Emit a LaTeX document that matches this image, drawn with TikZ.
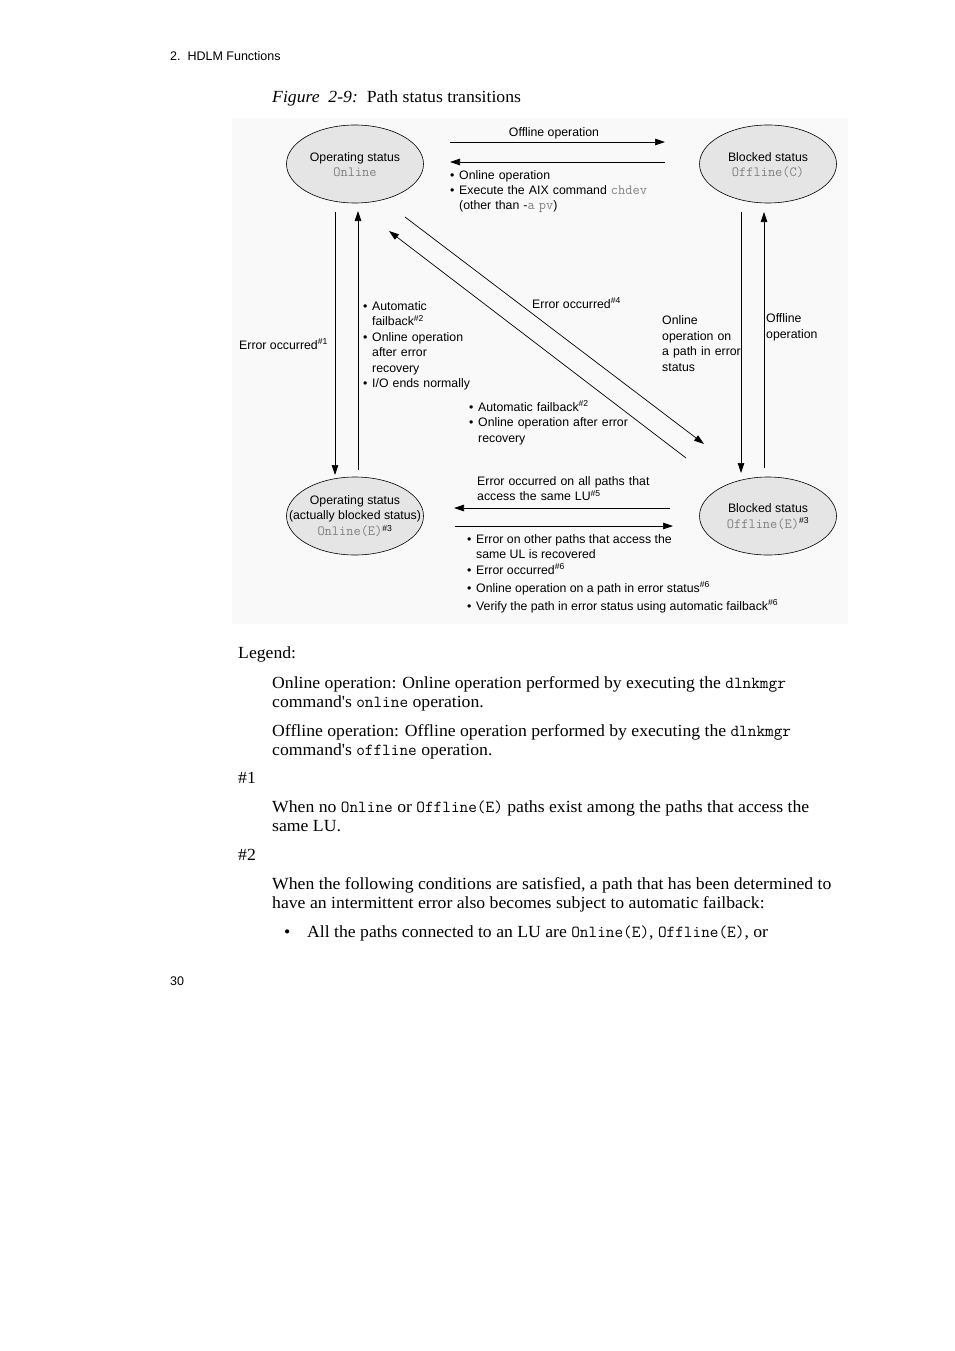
\documentclass[tikz,border=0pt]{standalone}
\usepackage{fontspec}
\setmainfont{Liberation Serif}[FakeStretch=1.04]
\newfontfamily\sansf{Liberation Sans}
\usetikzlibrary{arrows.meta,shapes.geometric}
\definecolor{monogray}{gray}{0.5}
\definecolor{ellfill}{gray}{0.9}
\definecolor{diagbg}{gray}{0.975}
\newcommand\dm[1]{{\ttfamily\fontsize{14}{15.5}\selectfont\textcolor{monogray}{#1}}}
\newcommand\bm[1]{{\ttfamily\fontsize{16.8}{19}\selectfont #1}}
\newcommand\hs[1]{\textsuperscript{\#{}#1}}
\newcommand\bul{\makebox[9pt][l]{\textbullet}}
\newcommand\cnt{\hspace*{9pt}}
\newcommand\apos{\textquotesingle}
\begin{document}
\begin{tikzpicture}[x=1pt,y=-1pt,
  dtext/.style={font=\sansf\fontsize{12.3}{15.5}\selectfont, inner sep=0pt, anchor=base west},
  dblock/.style={dtext, text width=260pt, align=left},
  btext/.style={font=\fontsize{17}{19}\selectfont, inner sep=0pt, anchor=base west},
  htext/.style={font=\sansf\fontsize{12.5}{15}\selectfont, inner sep=0pt, anchor=base west},
  state/.style={ellipse, draw, fill=ellfill, minimum width=137pt, minimum height=78pt,
    inner sep=0pt, line width=0.6pt},
  stext/.style={align=center, inner sep=0pt, font=\sansf\fontsize{12.3}{15.5}\selectfont},
  arr/.style={-{Triangle[length=10pt,width=6.5pt]}, line width=0.7pt}]
\useasboundingbox (0,0) rectangle (954,1351);
\fill[white] (0,0) rectangle (954,1351);
% header and caption
\node[htext] (hdr) at (170,61) {2.\ \ HDLM Functions};
\node[btext] (cap) at (272,103) {\textit{Figure\ \ 2-9:}\ \ Path status transitions};
% diagram background
\fill[diagbg] (232,118) rectangle (848,624);
% states
\node[state] (on) at (355,164) {};
\node[state] (offc) at (768,164) {};
\node[state] (one) at (355,516) {};
\node[state] (offe) at (768,516) {};
\node[stext] (ont) at (355,164.5) {Operating status\\\dm{Online}};
\node[stext] (offct) at (768,165) {Blocked status\\\dm{Offline(C)}};
\node[stext] (onet) at (355,516) {Operating status\\(actually blocked status)\\\dm{Online(E)}\hs{3}};
\node[stext] (offet) at (768,516.5) {Blocked status\\\dm{Offline(E)}\hs{3}};
% arrow end points
\coordinate (t1s) at (450,142); \coordinate (t1e) at (665,142);
\coordinate (t2s) at (665,162); \coordinate (t2e) at (450,162);
\coordinate (l1s) at (335,212); \coordinate (l1e) at (335,475);
\coordinate (l2s) at (358,470); \coordinate (l2e) at (358,211);
\coordinate (r1s) at (741,212); \coordinate (r1e) at (741,473);
\coordinate (r2s) at (764,468); \coordinate (r2e) at (764,212);
\coordinate (d1s) at (405,217); \coordinate (d1e) at (704,444);
\coordinate (d2s) at (686,458); \coordinate (d2e) at (389,231);
\coordinate (b1s) at (670,508); \coordinate (b1e) at (454,508);
\coordinate (b2s) at (455,526); \coordinate (b2e) at (673,526);
\draw[arr] (t1s) -- (t1e);
\draw[arr] (t2s) -- (t2e);
\draw[arr] (l1s) -- (l1e);
\draw[arr] (l2s) -- (l2e);
\draw[arr] (r1s) -- (r1e);
\draw[arr] (r2s) -- (r2e);
\draw[arr] (d1s) -- (d1e);
\draw[arr] (d2s) -- (d2e);
\draw[arr] (b1s) -- (b1e);
\draw[arr] (b2s) -- (b2e);
% labels
\node[dtext, anchor=base] (lofft) at (554,137) {Offline operation};
\node[dblock] (lont) at (450,179) {\bul Online operation\\\bul Execute the AIX command \dm{chdev}\\\cnt(other than -\dm{a pv})};
\node[dtext] (lerr1) at (239,349) {Error occurred\hs{1}};
\node[dblock] (lleft) at (363,310) {\bul Automatic\\\cnt failback\hs{2}\\\bul Online operation\\\cnt after error\\\cnt recovery\\\bul I/O ends normally};
\node[dtext] (lerr4) at (532,308) {Error occurred\hs{4}};
\node[dblock] (lonerr) at (662,324.5) {Online\\operation on\\a path in error\\status};
\node[dblock] (loffop) at (766,322.5) {Offline\\operation};
\node[dblock] (lmid) at (469,411) {\bul Automatic failback\hs{2}\\\bul Online operation after error\\\cnt recovery};
\node[dblock] (lall) at (477,485) {Error occurred on all paths that\\access the same LU\hs{5}};
\node[dtext] (lb1) at (467,543) {\bul Error on other paths that access the};
\node[dtext] (lb2) at (476,558) {same UL is recovered};
\node[dtext] (lb3) at (467,574) {\bul Error occurred\hs{6}};
\node[dtext] (lb4) at (467,592) {\bul Online operation on a path in error status\hs{6}};
\node[dtext] (lb5) at (467,610) {\bul Verify the path in error status using automatic failback\hs{6}};
% body text
\node[btext] (leg) at (238,658) {Legend:};
\node[btext] (p1a) at (272,688) {Online operation: Online operation performed by executing the \bm{dlnkmgr}};
\node[btext] (p1b) at (272,707) {command\apos s \bm{online} operation.};
\node[btext] (p2a) at (272,736) {Offline operation: Offline operation performed by executing the \bm{dlnkmgr}};
\node[btext] (p2b) at (272,755) {command\apos s \bm{offline} operation.};
\node[btext] (n1) at (238,783) {\#1};
\node[btext] (p3a) at (272,812) {When no \bm{Online} or \bm{Offline(E)} paths exist among the paths that access the};
\node[btext] (p3b) at (272,831) {same LU.};
\node[btext] (n2) at (238,860) {\#2};
\node[btext] (p4a) at (272,889) {When the following conditions are satisfied, a path that has been determined to};
\node[btext] (p4b) at (272,908) {have an intermittent error also becomes subject to automatic failback:};
\node[btext] (bu) at (284,937) {\textbullet};
\node[btext] (p5) at (307,937) {All the paths connected to an LU are \bm{Online(E)}, \bm{Offline(E)}, or};
\node[htext] (pg) at (170,985) {30};
\end{tikzpicture}
\end{document}
